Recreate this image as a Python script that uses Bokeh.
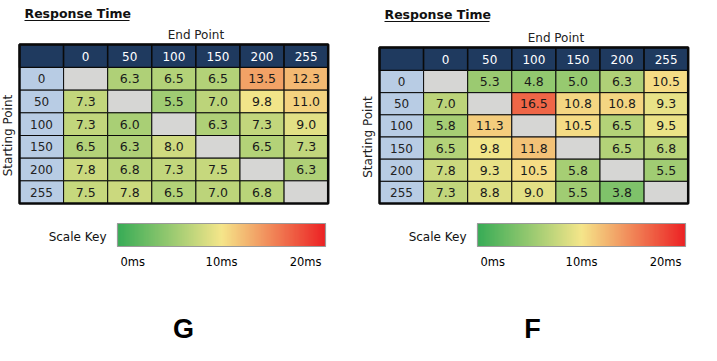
import numpy as np
from bokeh.plotting import figure
from bokeh.models import Range1d, ColumnDataSource, LinearColorMapper
from bokeh.transform import transform
from bokeh.core.properties import value
from bokeh.embed import file_html
from bokeh.resources import INLINE

# ---------------- data ----------------
end_points = ["0", "50", "100", "150", "200", "255"]
start_points = ["0", "50", "100", "150", "200", "255"]

g_values = [
    [None, 6.3, 6.5, 6.5, 13.5, 12.3],
    [7.3, None, 5.5, 7.0, 9.8, 11.0],
    [7.3, 6.0, None, 6.3, 7.3, 9.0],
    [6.5, 6.3, 8.0, None, 6.5, 7.3],
    [7.8, 6.8, 7.3, 7.5, None, 6.3],
    [7.5, 7.8, 6.5, 7.0, 6.8, None],
]
f_values = [
    [None, 5.3, 4.8, 5.0, 6.3, 10.5],
    [7.0, None, 16.5, 10.8, 10.8, 9.3],
    [5.8, 11.3, None, 10.5, 6.5, 9.5],
    [6.5, 9.8, 11.8, None, 6.5, 6.8],
    [7.8, 9.3, 10.5, 5.8, None, 5.5],
    [7.3, 8.8, 9.0, 5.5, 3.8, None],
]
scale_ticks = [0, 10, 20]
scale_labels = ["0ms", "10ms", "20ms"]
panel_letters = ["G", "F"]

# ---------------- style ----------------
FONT = "DejaVu Sans"
NAVY = "#1f3a5f"
LBLUE = "#b8cce4"
GRAY = "#d6d6d4"

stops = [(0.0, (56, 172, 86)), (0.5, (245, 230, 138)), (1.0, (236, 34, 36))]


def make_palette(n=256):
    cols = []
    for t in np.linspace(0, 1, n):
        for (t0, c0), (t1, c1) in zip(stops[:-1], stops[1:]):
            if t0 <= t <= t1:
                f = (t - t0) / (t1 - t0)
                c = [int(round(a + (b - a) * f)) for a, b in zip(c0, c1)]
                cols.append("#%02x%02x%02x" % tuple(c))
                break
    return cols


palette = make_palette()
mapper = LinearColorMapper(palette=palette, low=scale_ticks[0], high=scale_ticks[-1], nan_color=GRAY)

p = figure(width=701, height=345, x_range=Range1d(0, 701), y_range=Range1d(345, 0),
           output_backend="svg", toolbar_location=None, x_axis_type=None, y_axis_type=None,
           min_border=0, outline_line_color=None)
p.grid.visible = False


def draw_panel(values, left, top, header_h, col_w, row_h, title_y, letter, letter_x):
    n = len(end_points)
    # title
    p.text(x=[left + 5], y=[title_y], text=["Response Time"], text_font=value(FONT),
           text_font_style="bold", text_font_size="12.5px", text_align="left",
           text_baseline="middle", text_color="#111111")
    p.segment(x0=[left + 5], y0=[title_y + 7.5], x1=[left + 110], y1=[title_y + 7.5],
              line_color="#111111", line_width=1.2)
    # End Point label
    data_left = left + col_w
    p.text(x=[data_left + n * col_w / 2], y=[top - 10], text=["End Point"], text_font=value(FONT),
           text_font_size="12px", text_align="center", text_baseline="middle", text_color="#222222")
    # Starting Point label
    body_top = top + header_h
    p.text(x=[left - 12], y=[body_top + 3 * row_h], text=["Starting Point"],
           text_font=value(FONT), text_font_size="12px", text_align="center",
           text_baseline="middle", angle=np.pi / 2, text_color="#222222")
    # header row
    hx = [left + col_w / 2] + [data_left + (i + 0.5) * col_w for i in range(n)]
    hy = [top + header_h / 2] * (n + 1)
    p.rect(x=hx, y=hy, width=col_w, height=header_h, fill_color=NAVY, line_color="#0a0a0a",
           line_width=1.5)
    p.text(x=hx[1:], y=hy[1:], text=end_points, text_font=value(FONT), text_font_size="12px",
           text_align="center", text_baseline="middle", text_color="white")
    # start point column
    sx = [left + col_w / 2] * n
    sy = [body_top + (j + 0.5) * row_h for j in range(n)]
    p.rect(x=sx, y=sy, width=col_w, height=row_h, fill_color=LBLUE, line_color="#0a0a0a",
           line_width=1)
    p.text(x=sx, y=sy, text=start_points, text_font=value(FONT), text_font_size="12px",
           text_align="center", text_baseline="middle", text_color="#222222")
    # cells
    xs, ys, vals, labels = [], [], [], []
    for j, row in enumerate(values):
        for i, v in enumerate(row):
            xs.append(data_left + (i + 0.5) * col_w)
            ys.append(body_top + (j + 0.5) * row_h)
            vals.append(np.nan if v is None else v)
            labels.append("" if v is None else f"{v:.1f}")
    src = ColumnDataSource(dict(x=xs, y=ys, val=vals, label=labels))
    p.rect(x="x", y="y", width=col_w, height=row_h, source=src,
           fill_color=transform("val", mapper), line_color="#0a0a0a", line_width=1)
    p.text(x="x", y="y", text="label", source=src, text_font=value(FONT), text_font_size="12.5px",
           text_align="center", text_baseline="middle", text_color="#1a1a1a")
    # outer border
    tw = (n + 1) * col_w
    th = header_h + n * row_h
    p.rect(x=[left + tw / 2], y=[top + th / 2], width=tw, height=th, fill_color=None,
           line_color="#0a0a0a", line_width=2.5)
    # scale key
    bar_left = left + 98
    bar_w = 208
    bar_top = 223
    bar_h = 23
    grad = np.linspace(scale_ticks[0], scale_ticks[-1], 300)[None, :]
    p.image(image=[grad], x=bar_left, y=bar_top, dw=bar_w, dh=bar_h, color_mapper=mapper)
    p.rect(x=[bar_left + bar_w / 2], y=[bar_top + bar_h / 2], width=bar_w, height=bar_h,
           fill_color=None, line_color="#9a9a9a", line_width=1.2)
    p.text(x=[bar_left - 11], y=[bar_top + bar_h / 2 + 2], text=["Scale Key"], text_font=value(FONT),
           text_font_size="12px", text_align="right", text_baseline="middle", text_color="#111111")
    aligns = ["left", "center", "right"]
    offs = [3, 0, -4]
    for t, lab, al, of in zip(scale_ticks, scale_labels, aligns, offs):
        tx = bar_left + (t - scale_ticks[0]) / (scale_ticks[-1] - scale_ticks[0]) * bar_w + of
        p.text(x=[tx], y=[bar_top + 38], text=[lab], text_font=value(FONT), text_font_size="11.5px",
               text_align=al, text_baseline="middle", text_color="#000000")
    # panel letter
    p.text(x=[letter_x], y=[328], text=[letter], text_font=value("Liberation Sans"),
           text_font_style="bold", text_font_size="27px", text_align="center",
           text_baseline="middle", text_color="#000000")


draw_panel(g_values, left=19, top=44, header_h=23, col_w=44.1, row_h=22.67, title_y=12.5,
           letter=panel_letters[0], letter_x=183)
draw_panel(f_values, left=379, top=47, header_h=23, col_w=44.1, row_h=22.17, title_y=13.5,
           letter=panel_letters[1], letter_x=532)

open("out.html", "w").write(file_html(p, INLINE))
